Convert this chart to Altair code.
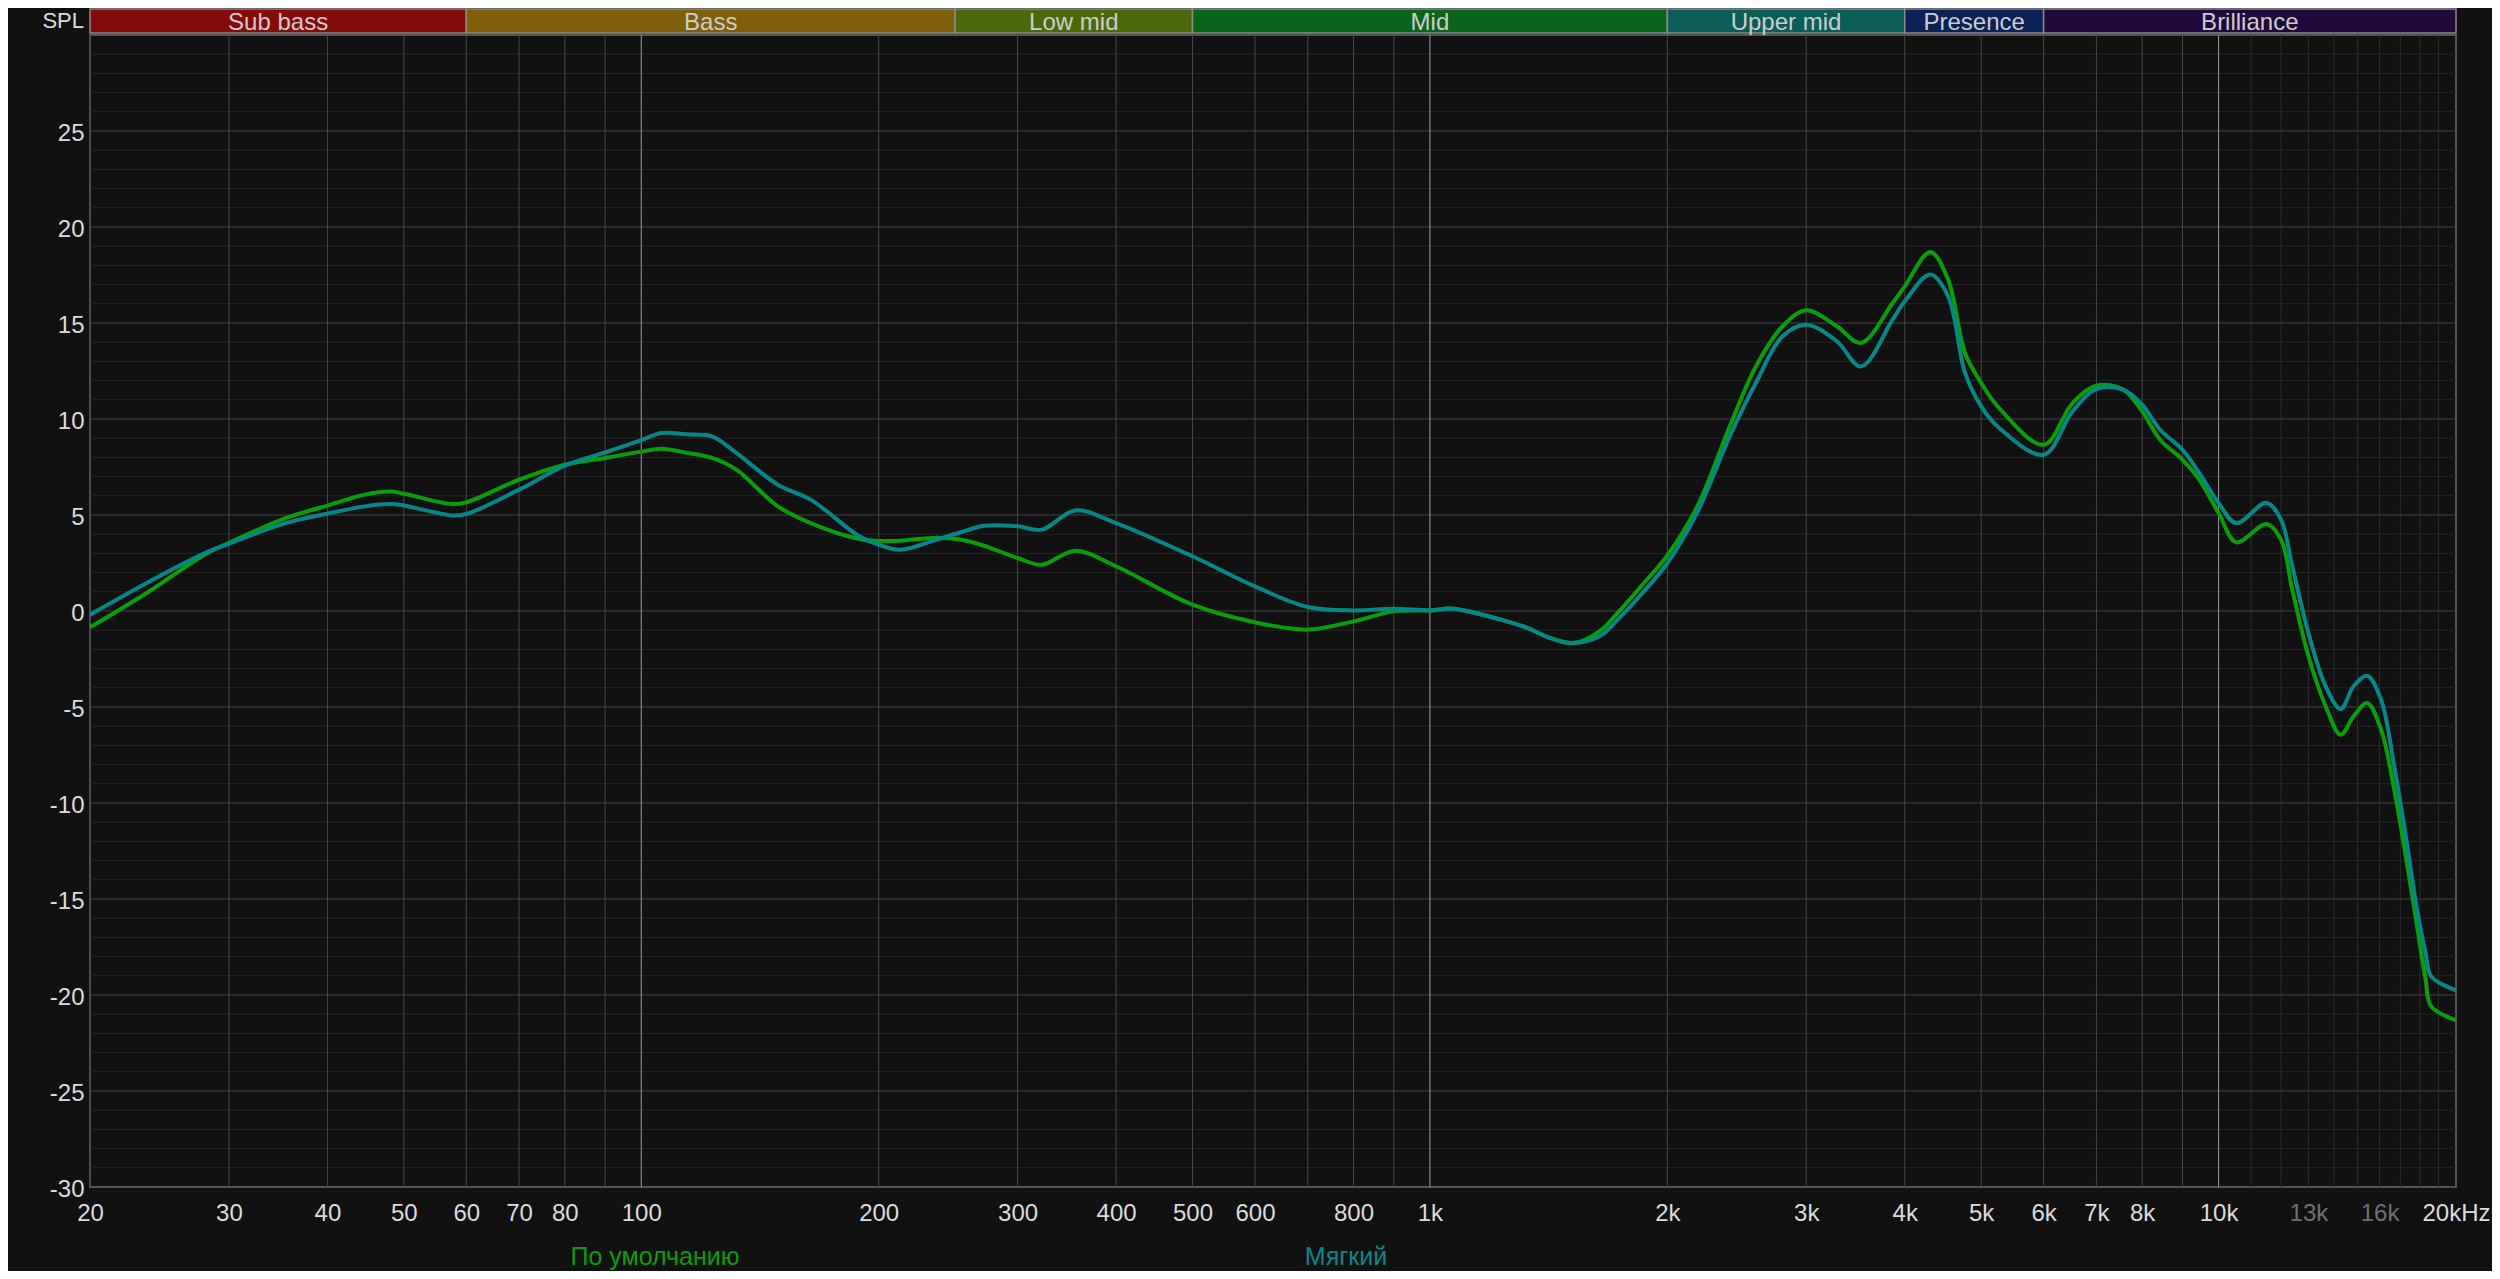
import altair as alt
import pandas as pd

# ---- data ----
freqs = [20, 23.6, 28.1, 30, 35.4, 40, 44.6, 48, 50, 57.5, 60, 70, 80, 90, 100, 106, 114, 123, 132,
         149, 164, 189, 200, 213, 237, 254, 272, 300, 322, 355, 400, 500, 600, 700, 800, 900, 1000,
         1070, 1230, 1330, 1420, 1520, 1640, 1730, 1860, 2000, 2180, 2400, 2590, 2800, 3000, 3280,
         3520, 3860, 4000, 4310, 4540, 4770, 5000, 5270, 6000, 6530, 7000, 7570, 8000, 8430, 9000,
         9450, 10000, 10530, 11500, 12000, 12400, 13000, 13670, 14280, 14830, 15430, 16070, 16700,
         17300, 17850, 18300, 18600, 20000]
default_db = [-0.85, 0.94, 3.0, 3.55, 4.84, 5.49, 6.06, 6.22, 6.11, 5.57, 5.66, 6.84, 7.62, 7.97, 8.3,
              8.45, 8.25, 7.97, 7.36, 5.45, 4.58, 3.75, 3.65, 3.66, 3.82, 3.72, 3.4, 2.76, 2.41, 3.14,
              2.33, 0.33, -0.59, -0.97, -0.54, -0.02, 0.03, 0.12, -0.45, -0.89, -1.4, -1.67, -1.06,
              -0.1, 1.37, 2.9, 5.4, 9.62, 12.74, 14.83, 15.66, 14.83, 13.96, 16.04, 16.91, 18.7, 17.26,
              13.44, 11.88, 10.57, 8.66, 10.83, 11.74, 11.53, 10.4, 8.92, 7.88, 6.84, 5.1, 3.58, 4.53,
              3.72, 1.11, -2.36, -4.97, -6.44, -5.49, -4.79, -6.18, -9.31, -12.95, -16.42, -19.2,
              -20.59, -21.32]
soft_db = [-0.2, 1.46, 3.05, 3.5, 4.58, 5.07, 5.45, 5.57, 5.5, 4.98, 5.05, 6.32, 7.57, 8.26, 8.9,
           9.27, 9.2, 9.1, 8.23, 6.58, 5.8, 3.89, 3.45, 3.19, 3.72, 4.1, 4.44, 4.41, 4.24, 5.24,
           4.58, 2.85, 1.28, 0.21, 0.03, 0.12, 0.03, 0.12, -0.45, -0.89, -1.4, -1.67, -1.32,
           -0.45, 0.94, 2.5, 5.1, 9.1, 11.88, 14.31, 14.91, 14.05, 12.74, 15.17, 16.13, 17.52,
           16.39, 12.4, 10.66, 9.53, 8.14, 10.4, 11.56, 11.53, 10.75, 9.44, 8.4, 7.19, 5.63, 4.58,
           5.63, 4.76, 2.33, -1.15, -3.92, -5.1, -3.92, -3.37, -4.62, -8.09, -11.91, -15.56,
           -17.81, -19.03, -19.76]
series_names = ["По умолчанию", "Мягкий"]
series_colors = ["#0a9e0a", "#078888"]

band_names = ["Sub bass", "Bass", "Low mid", "Mid", "Upper mid", "Presence", "Brilliance"]
band_start = [20, 60, 250, 500, 2000, 4000, 6000]
band_end = [60, 250, 500, 2000, 4000, 6000, 20000]
band_colors = ["#870a0a", "#7f5f0a", "#4a6a0a", "#0a6419", "#0a5e57", "#0a2257", "#21093d"]

x_tick_values = [20, 30, 40, 50, 60, 70, 80, 100, 200, 300, 400, 500, 600, 800, 1000, 2000, 3000,
                 4000, 5000, 6000, 7000, 8000, 10000, 13000, 16000, 20000]
x_tick_labels = ["20", "30", "40", "50", "60", "70", "80", "100", "200", "300", "400", "500", "600",
                 "800", "1k", "2k", "3k", "4k", "5k", "6k", "7k", "8k", "10k", "13k", "16k", "20kHz"]
x_dim_labels = [13000, 16000]
y_tick_values = [-30, -25, -20, -15, -10, -5, 0, 5, 10, 15, 20, 25]

x_grid = [20, 30, 40, 50, 60, 70, 80, 90, 200, 300, 400, 500, 600, 700, 800, 900,
          2000, 3000, 4000, 5000, 6000, 7000, 8000, 9000]
x_grid_decade = [100, 1000, 10000]
x_grid_fine = [11000, 12000, 13000, 14000, 15000, 16000, 17000, 18000, 19000]
y_grid_major = [-25, -20, -15, -10, -5, 0, 5, 10, 15, 20, 25]
y_grid_minor = [v for v in range(-29, 30) if v % 5 != 0]

# ---- build ----
FONT = "Liberation Sans"
W, H = 2366, 1152
xs = alt.Scale(type="log", domain=[20, 20000], nice=False)
ys = alt.Scale(domain=[-30, 30], nice=False, zero=False)

curve_rows = []
for name, vals in zip(series_names, [default_db, soft_db]):
    for f, v in zip(freqs, vals):
        curve_rows.append({"f": f, "db": v, "s": name})
curves_df = pd.DataFrame(curve_rows)

label_expr = "".join(f"datum.value == {v} ? '{l}' : " for v, l in zip(x_tick_values, x_tick_labels)) + "''"
dim_test = " || ".join(f"datum.value == {v}" for v in x_dim_labels)

x_axis = alt.Axis(values=x_tick_values, labelExpr=label_expr, grid=False, ticks=False, title=None,
                  domain=False, labelFont=FONT, labelFontSize=24, labelPadding=14,
                  labelColor={"condition": {"test": dim_test, "value": "#707070"}, "value": "#dcdcdc"},
                  labelOverlap=False, labelFlush=False)
y_axis = alt.Axis(values=y_tick_values, grid=False, ticks=False, domain=False, title=None,
                  labelExpr="datum.value < 0 ? '-' + abs(datum.value) : '' + datum.value",
                  labelFont=FONT, labelFontSize=24, labelPadding=6, labelColor="#dcdcdc",
                  labelOffset=2, labelOverlap=False, labelFlush=False)


def X(field):
    return alt.X(field, type="quantitative", scale=xs, axis=x_axis, title=None)


def Y(field):
    return alt.Y(field, type="quantitative", scale=ys, axis=y_axis, title=None)


def hrules(vals, color):
    return alt.Chart(pd.DataFrame({"db": vals})).mark_rule(color=color, strokeWidth=1).encode(y=Y("db"))


def vrules(vals, color, sw=1):
    return alt.Chart(pd.DataFrame({"f": vals})).mark_rule(color=color, strokeWidth=sw).encode(x=X("f"))


g_minor = hrules(y_grid_minor, "#252525")
g_major = hrules(y_grid_major, "#444444")
g_fine = vrules(x_grid_fine, "#2b2b2b")
g_x = vrules(x_grid, "#474747")
g_dec = vrules(x_grid_decade, "#9a9a9a")

lines = alt.Chart(curves_df).mark_line(strokeWidth=4, interpolate="catmull-rom").encode(
    x=X("f"),
    y=Y("db"),
    color=alt.Color("s:N", scale=alt.Scale(domain=series_names, range=series_colors), legend=None),
    order=alt.Order("f:Q"),
    detail="s:N",
)

bands_df = pd.DataFrame({"name": band_names, "f0": band_start, "f1": band_end, "c": band_colors})
bands_df["mid"] = (bands_df["f0"] * bands_df["f1"]) ** 0.5
band_rect = alt.Chart(bands_df).mark_rect(stroke="#8a8a8a", strokeWidth=1.5).encode(
    x=X("f0"), x2="f1:Q",
    y=alt.value(-26), y2=alt.value(-2),
    fill=alt.Fill("c:N", scale=None),
)
band_text = alt.Chart(bands_df).mark_text(font=FONT, fontSize=24, color="#cccccc",
                                          baseline="alphabetic", align="center").encode(
    x=X("mid"), y=alt.value(-5), text="name:N")

spl = alt.Chart(pd.DataFrame({"t": ["SPL"]})).mark_text(
    font=FONT, fontSize=22, color="#dcdcdc", align="right", baseline="alphabetic").encode(
    x=alt.value(-6), y=alt.value(-7), text="t:N")

legend_default = alt.Chart(pd.DataFrame({"t": [series_names[0]]})).mark_text(
    font=FONT, fontSize=25, baseline="middle", align="center", color=series_colors[0]).encode(
    x=alt.value(565), y=alt.value(1222), text="t:N")
legend_soft = alt.Chart(pd.DataFrame({"t": [series_names[1]]})).mark_text(
    font=FONT, fontSize=25, baseline="middle", align="center", color=series_colors[1]).encode(
    x=alt.value(1256), y=alt.value(1222), text="t:N")

chart = alt.layer(g_minor, g_major, g_fine, g_x, g_dec, lines, band_rect, band_text, spl,
                  legend_default, legend_soft).properties(
    width=W, height=H,
    padding={"left": 82, "top": 27, "right": 36, "bottom": 84},
    autosize=alt.AutoSizeParams(type="none"),
    background="#111111",
).configure_view(stroke="#555555", strokeWidth=2, fill="#111111")

chart.save("out.html", embed_options={"renderer": "svg", "actions": False})
